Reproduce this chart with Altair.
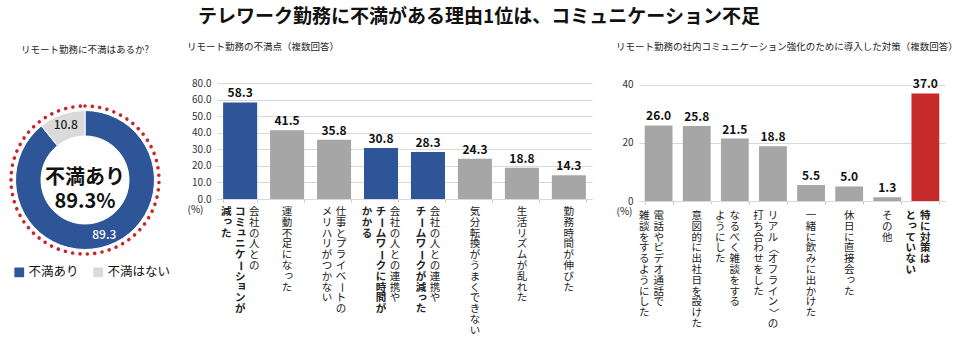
import json
import altair as alt
import pandas as pd

FONT = "Noto Sans CJK JP"

# ---------------- data ----------------
main_title = "テレワーク勤務に不満がある理由1位は、コミュニケーション不足"

donut_title = "リモート勤務に不満はあるか?"
donut_cats = ["不満あり", "不満はない"]
donut_vals = [89.3, 10.8]
donut_colors = ["#2e5597", "#dadada"]

mid_title = "リモート勤務の不満点（複数回答）"
mid_labels = [
    ["会社の人との", "*コミュニケーションが", "*減った"],
    ["運動不足になった"],
    ["仕事とプライベートの", "メリハリがつかない"],
    ["会社の人との連携や", "*チームワークに時間が", "*かかる"],
    ["会社の人との連携や", "*チームワークが減った"],
    ["気分転換がうまくできない"],
    ["生活リズムが乱れた"],
    ["勤務時間が伸びた"],
]
mid_vals = [58.3, 41.5, 35.8, 30.8, 28.3, 24.3, 18.8, 14.3]
mid_groups = ["hi", "lo", "lo", "hi", "hi", "lo", "lo", "lo"]
mid_ticks = [0, 10, 20, 30, 40, 50, 60, 70]
mid_tick_labels = ["0.0", "10.0", "20.0", "30.0", "40.0", "50.0", "60.0", "80.0"]

right_title = "リモート勤務の社内コミュニケーション強化のために導入した対策（複数回答）"
right_labels = [
    ["電話やビデオ通話で", "雑談をするようにした"],
    ["意図的に出社日を設けた"],
    ["なるべく雑談をする", "ようにした"],
    ["リアル〈オフライン〉の", "打ち合わせをした"],
    ["一緒に飲みに出かけた"],
    ["休日に直接会った"],
    ["その他"],
    ["*特に対策は", "*とっていない"],
]
right_vals = [26.0, 25.8, 21.5, 18.8, 5.5, 5.0, 1.3, 37.0]
right_groups = ["lo", "lo", "lo", "lo", "lo", "lo", "lo", "red"]
right_ticks = [0, 20, 40]
right_tick_labels = ["0", "20", "40"]

BLUE = "#2e5597"
GRAY = "#a6a6a6"
RED = "#c62a2a"
GRID = "#d9d9d9"
ROT_CHARS = set("ー〈〉（）")
SMALL_KANA = set("ァィゥェォッャュョヮぁぃぅぇぉっゃゅょ")
PITCH = 10.8
LFS = 10.5


def cat_names(labels):
    return ["".join(c.lstrip("*") for c in cols) for cols in labels]


def char_table(labels):
    rows = []
    for cols in labels:
        cat = "".join(c.lstrip("*") for c in cols)
        for j, col in enumerate(cols):
            bold = col.startswith("*")
            for k, ch in enumerate(col.lstrip("*")):
                rows.append(dict(cat=cat, col=j, ncol=len(cols), row=k, ch=ch, bold=bold,
                                 rot=90 if ch in ROT_CHARS else 0,
                                 sk=1 if ch in SMALL_KANA else 0))
    return pd.DataFrame(rows)


# ---------------- donut ----------------
DW, DH = 170, 194
ddf = pd.DataFrame({"k": donut_cats, "v": donut_vals, "i": list(range(len(donut_cats)))})
center_df = pd.DataFrame({"t": [f"{donut_cats[0]}\n{donut_vals[0]}%"]})

ring = alt.Chart(ddf).mark_arc(outerRadius=69.5, innerRadius=44, stroke="white", strokeWidth=1).encode(
    theta=alt.Theta("v:Q", stack=True),
    order=alt.Order("i:Q"),
    color=alt.Color("k:N", sort=donut_cats,
                    scale=alt.Scale(domain=donut_cats, range=donut_colors),
                    legend=alt.Legend(title=None, orient="none", legendX=13, legendY=183,
                                      direction="horizontal", symbolType="square",
                                      symbolSize=95, symbolStrokeWidth=0, symbolOpacity=1,
                                      labelFontSize=12.5, labelColor="#111", labelFont=FONT,
                                      labelOffset=3, columnPadding=13)),
)
ring_labels = alt.Chart(ddf).mark_text(radius=58, fontSize=12, fontWeight=500, font=FONT).encode(
    theta=alt.Theta("v:Q", stack=True),
    order=alt.Order("i:Q"),
    text=alt.Text("v:Q", format=".1f"),
    color=alt.condition(alt.datum.i == 0, alt.value("white"), alt.value("#222")),
)
dots = alt.Chart(pd.DataFrame({"a": [1]})).mark_arc(
    outerRadius=74, innerRadius=0, fillOpacity=0, strokeWidth=3.6,
    strokeDash=[0.01, 7.4], strokeCap="round").encode(
    theta=alt.value(0), theta2=alt.value(6.2832), stroke=alt.value("#cc2229"))
center_txt = alt.Chart(center_df).mark_text(fontSize=20, fontWeight="bold", font=FONT,
                                            lineBreak="\n", lineHeight=24, dy=-2,
                                            color="#111").encode(text="t:N")
donut = alt.layer(dots, ring, ring_labels, center_txt).properties(
    width=DW, height=DH,
    title=alt.TitleParams(donut_title, anchor="middle", frame="group", offset=29,
                          fontSize=9.5, fontWeight="normal", font=FONT, color="#222"))


# ---------------- bar panel builder ----------------
def bar_panel(title, labels, vals, groups, W, H, domain, ticks, tick_labels,
              pad_in, pad_out, col_expr, title_dx, label_top):
    cats = cat_names(labels)
    df = pd.DataFrame({"cat": cats, "v": vals, "g": groups})
    xenc = alt.X("cat:N", sort=cats,
                 scale=alt.Scale(paddingInner=pad_in, paddingOuter=pad_out),
                 axis=alt.Axis(labels=False, title=None, ticks=True, tickBand="extent",
                               tickSize=3, tickColor="#c8c8c8", domainColor=GRID, grid=False))
    label_expr = f"{json.dumps(tick_labels)}[indexof({json.dumps(ticks)}, datum.value)]"
    yaxis = alt.Axis(values=ticks, labelExpr=label_expr, labelOverlap=False,
                     grid=True, gridColor=GRID, domain=False, ticks=False,
                     labelPadding=6, labelFontSize=10, labelColor="#333", labelFont=FONT,
                     title="(%)", titleAngle=0, titleX=title_dx, titleY=H + 10,
                     titleAlign="center", titleBaseline="middle", titleFontSize=10,
                     titleFontWeight="normal", titleColor="#222", titleFont=FONT)
    yenc = alt.Y("v:Q", scale=alt.Scale(domain=domain, nice=False, zero=True), axis=yaxis)
    bars = alt.Chart(df).mark_bar().encode(
        x=xenc, y=yenc,
        color=alt.Color("g:N", scale=alt.Scale(domain=["hi", "lo", "red"], range=[BLUE, GRAY, RED]),
                        legend=None))
    vlab = alt.Chart(df).mark_text(baseline="bottom", dy=-2, fontSize=12, fontWeight="bold",
                                   font=FONT, color="#111").encode(
        x=alt.X("cat:N", sort=cats), y=alt.Y("v:Q", axis=yaxis),
        text=alt.Text("v:Q", format=".1f"))
    chars = char_table(labels)
    cx = f"(({col_expr}) + datum.sk * 1.6)"
    ry = f"(datum.row * {PITCH} - datum.sk * 1.6)"
    ctext = alt.Chart(chars).mark_text(
        fontSize=LFS, font=FONT, color="#222", baseline="middle", align="center",
        dx=alt.ExprRef(f"datum.rot ? {ry} : {cx}"),
        dy=alt.ExprRef(f"datum.rot ? -{cx} : {ry}"),
        angle=alt.ExprRef("datum.rot"),
        fontWeight=alt.ExprRef("datum.bold ? 'bold' : 'normal'")).encode(
        x=alt.X("cat:N", sort=cats), y=alt.value(label_top), text="ch:N")
    return alt.layer(bars, vlab, ctext).properties(
        width=W, height=H,
        title=alt.TitleParams(title, anchor="start", frame="bounds", offset=27,
                              fontSize=9.5, fontWeight="normal", font=FONT, color="#222"))


mid = bar_panel(mid_title, mid_labels, mid_vals, mid_groups, 375, 116, [0, 70], mid_ticks,
                mid_tick_labels, 0.275, 0.13, "((datum.ncol - 1) / 2 - datum.col) * 14", -22,
                116 + 13)
right = bar_panel(right_title, right_labels, right_vals, right_groups, 306, 118, [0, 40.6],
                  right_ticks, right_tick_labels, 0.27, 0.15, "-datum.col * 14.5", -15,
                  118 + 15)

chart = alt.hconcat(donut, mid, right, spacing=47, bounds="flush").resolve_scale(
    color="independent"
).properties(
    title=alt.TitleParams(main_title, anchor="middle", fontSize=19, fontWeight="bold",
                          font=FONT, color="#111", offset=15),
    padding={"left": 0, "top": 7, "right": 0, "bottom": 0},
).configure(font=FONT).configure_view(stroke=None)

chart.save("out.html", embed_options={"renderer": "svg", "actions": False})
